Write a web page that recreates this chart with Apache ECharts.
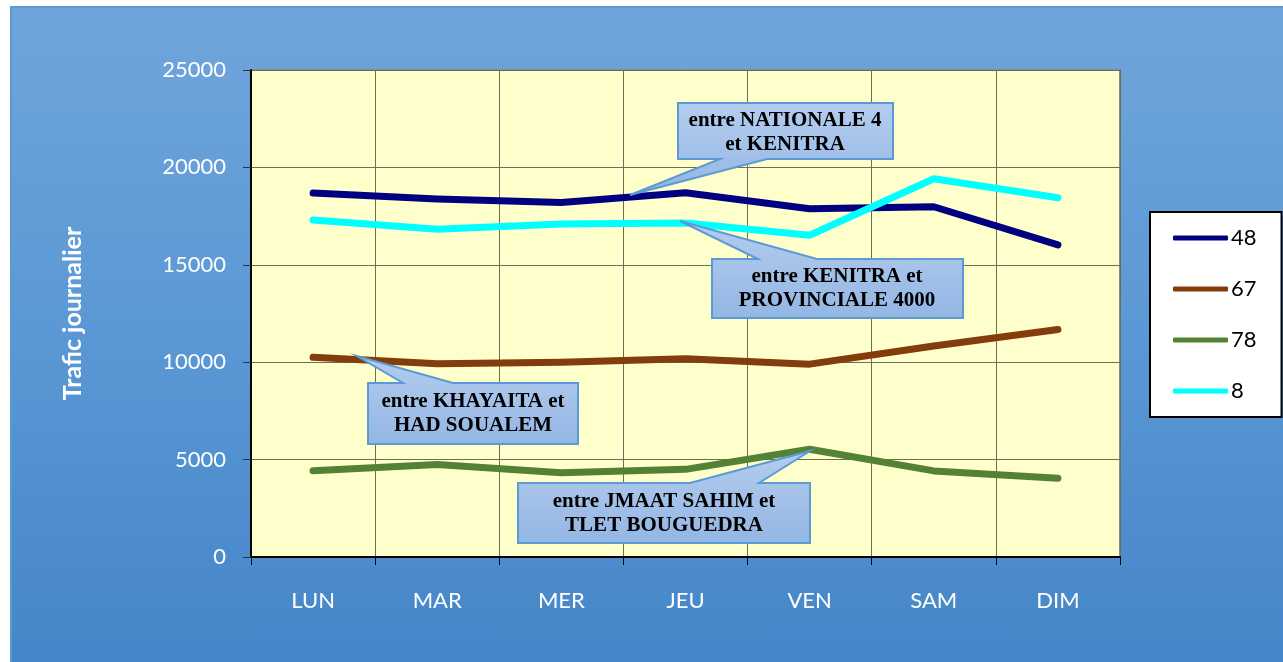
<!DOCTYPE html>
<html>
<head>
<meta charset="utf-8">
<script src="https://cdn.jsdelivr.net/npm/echarts@6/dist/echarts.min.js"></script>
<style>
html, body { margin: 0; padding: 0; background: #fff; }
#wrap { position: relative; width: 1283px; height: 662px; overflow: hidden; }
#panel {
	position: absolute; left: 10px; top: 6px; width: 1273px; height: 656px;
	background: linear-gradient(180deg, #70a5db 0%, #5a98d5 50%, #4586c8 100%);
	border-left: 2px solid #5b9bd5; border-top: 2px solid #5b9bd5;
	box-sizing: border-box;
}
#chart { position: absolute; left: 0; top: 0; width: 1283px; height: 662px; }
</style>
</head>
<body>
<div id="wrap">
	<div id="panel"></div>
	<div id="chart"></div>
</div>
<script>
// jours de la semaine
const days = ['LUN', 'MAR', 'MER', 'JEU', 'VEN', 'SAM', 'DIM'];

// trafic journalier par route
const route48 = [18680, 18380, 18200, 18700, 17880, 17980, 16020];
const route67 = [10250, 9920, 10000, 10180, 9900, 10830, 11680];
const route78 = [4430, 4750, 4330, 4500, 5530, 4420, 4040];
const route8 = [17300, 16830, 17100, 17150, 16520, 19420, 18440];

const seriesNames = ['48', '67', '78', '8'];
const seriesColors = ['#000080', '#843c0c', '#548235', '#00ffff'];

const yTicks = { min: 0, max: 25000, interval: 5000 };

let chart = echarts.init(document.getElementById('chart'), null, { renderer: 'canvas' });

let labelFont = 'Lato, "Open Sans", sans-serif';
let calloutFont = 'bold 21px "Liberation Serif", "DejaVu Serif", serif';
let gridColor = '#6e6e58';

// bulles (encadrés avec pointe)
function callout(points, cx, lines, y0) {
	return [{
		type: 'polygon',
		z: 100,
		shape: { points: points },
		style: {
			fill: new echarts.graphic.LinearGradient(0, 0, 0, 1, [
				{ offset: 0, color: '#b5cdef' },
				{ offset: 1, color: '#93b6e3' }
			]),
			stroke: '#5b9bd5',
			lineWidth: 2
		}
	}, {
		type: 'text',
		z: 101,
		style: {
			text: lines.join('\n'),
			x: cx,
			y: y0,
			align: 'center',
			verticalAlign: 'top',
			font: calloutFont,
			lineHeight: 24,
			fill: '#000'
		}
	}];
}

let callouts = [].concat(
	callout([[678, 103], [893, 103], [893, 159], [767, 159], [630, 195], [720, 159], [678, 159]],
		785, ['entre NATIONALE 4', 'et KENITRA'], 109),
	callout([[712, 259], [758, 259], [680, 221], [817, 259], [963, 259], [963, 318], [712, 318]],
		837, ['entre KENITRA et', 'PROVINCIALE 4000'], 265),
	callout([[368, 383], [403, 383], [357, 356], [453, 383], [578, 383], [578, 444], [368, 444]],
		473, ['entre KHAYAITA et', 'HAD SOUALEM'], 390),
	callout([[518, 483], [690, 483], [810, 451], [759, 483], [810, 483], [810, 543], [518, 543]],
		664, ['entre JMAAT SAHIM et', 'TLET BOUGUEDRA'], 490)
);

let values = [route48, route67, route78, route8];

let option = {
	backgroundColor: 'transparent',
	animation: false,
	grid: {
		left: 251,
		top: 70,
		right: 163,
		bottom: 105,
		show: true,
		backgroundColor: '#ffffcc',
		borderColor: '#888888',
		borderWidth: 2
	},
	legend: {
		orient: 'vertical',
		left: 1150,
		top: 212,
		backgroundColor: '#ffffff',
		borderColor: '#000000',
		borderWidth: 2,
		borderRadius: 0,
		padding: [15, 25, 15, 23],
		icon: 'roundRect',
		itemWidth: 55,
		itemHeight: 5,
		itemGap: 29,
		textStyle: { fontSize: 22, lineHeight: 22, color: '#000', fontFamily: labelFont, padding: [0, 0, 0, -2] },
		data: seriesNames
	},
	xAxis: {
		type: 'category',
		data: days,
		boundaryGap: true,
		axisLine: { show: true, lineStyle: { color: '#000', width: 2 } },
		axisTick: { show: true, length: 8, lineStyle: { color: '#000', width: 1 } },
		axisLabel: { color: '#fff', fontSize: 22, fontFamily: labelFont, margin: 33 },
		splitLine: { show: true, lineStyle: { color: gridColor, width: 1 } }
	},
	yAxis: {
		type: 'value',
		min: yTicks.min,
		max: yTicks.max,
		interval: yTicks.interval,
		name: 'Trafic journalier',
		nameLocation: 'middle',
		nameRotate: 90,
		nameGap: 166,
		nameTextStyle: { color: '#fff', fontSize: 25, fontWeight: 'bold', fontFamily: labelFont },
		axisLine: { show: true, lineStyle: { color: '#000', width: 2 } },
		axisTick: { show: true, length: 8, lineStyle: { color: '#333', width: 1 } },
		axisLabel: {
			color: '#fff', fontSize: 22, fontFamily: labelFont, margin: 25,
			formatter: v => String(v)
		},
		splitLine: { show: true, lineStyle: { color: gridColor, width: 1 } }
	},
	series: seriesNames.map((name, i) => ({
		name: name,
		type: 'line',
		data: values[i],
		symbol: 'none',
		smooth: false,
		color: seriesColors[i],
		lineStyle: { color: seriesColors[i], width: 7, cap: 'round', join: 'round' },
		z: 3 + i
	})),
	graphic: callouts
};

chart.setOption(option);
</script>
</body>
</html>
